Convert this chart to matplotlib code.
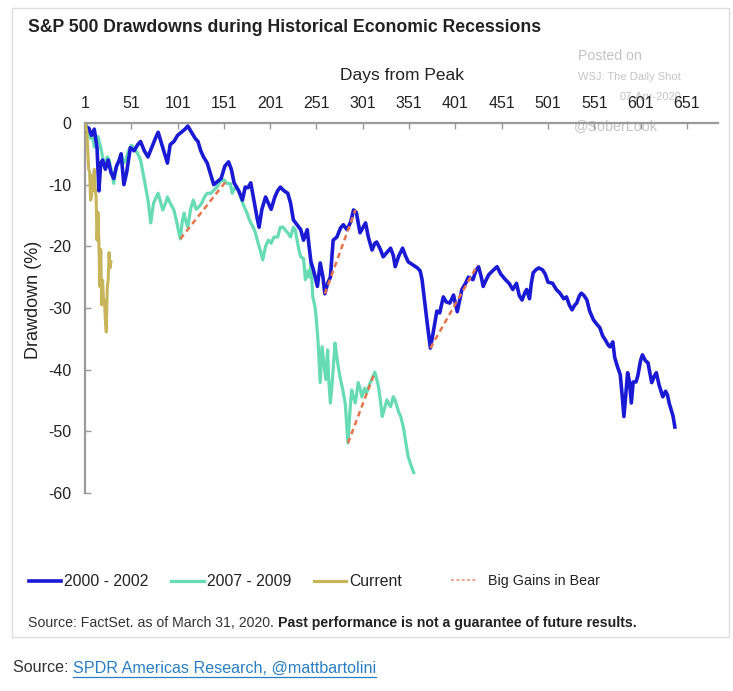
import numpy as np
import matplotlib
matplotlib.use('Agg')
import matplotlib.pyplot as plt
from matplotlib.lines import Line2D
from matplotlib.patches import Rectangle

plt.rcParams['font.family'] = ['Liberation Sans', 'DejaVu Sans']
plt.rcParams['axes.unicode_minus'] = False

# ---- data (day from peak, drawdown %) ----
days_0002 = [1, 3, 5, 8, 11, 14, 16, 18, 20, 23, 26, 29, 32, 35, 38, 40, 43, 46, 48, 50,
             54, 58, 61, 65, 69, 73, 77, 80, 84, 87, 90, 93, 97, 101, 105, 109, 112, 116, 120, 123,
             126, 129, 133, 136, 140, 144, 148, 152, 156, 159, 162, 165, 167, 171, 174, 177, 180, 184, 187, 189,
             192, 196, 199, 202, 206, 209, 212, 216, 220, 223, 226, 230, 234, 237, 241, 243, 245, 248, 252, 255,
             258, 260, 263, 266, 269, 273, 277, 280, 284, 288, 291, 294, 298, 301, 304, 307, 311, 314, 316, 320,
             323, 327, 331, 334, 336, 340, 344, 347, 350, 355, 360, 363, 365, 368, 371, 374, 377, 381, 384, 388,
             391, 395, 399, 403, 406, 408, 412, 415, 420, 423, 426, 429, 431, 434, 437, 441, 446, 450, 455, 459,
             463, 467, 470, 473, 476, 478, 481, 483, 485, 488, 491, 495, 498, 501, 506, 510, 514, 518, 521, 524,
             527, 530, 532, 535, 537, 540, 543, 546, 550, 553, 557, 560, 563, 566, 568, 571, 573, 576, 579, 581,
             583, 585, 587, 589, 591, 593, 596, 598, 601, 603, 606, 609, 611, 613, 616, 618, 621, 625, 628, 630,
             632, 634, 636, 638]
dd_0002 = [0, -1.5, -0.8, -2, -1, -4, -11, -6.5, -6, -7.5, -6, -8, -9, -7, -6, -5, -10, -8, -6, -4,
           -4.5, -3.5, -3, -4.5, -5.5, -4, -2.5, -1.5, -3.5, -5, -6.5, -3.5, -3, -2, -1.5, -1, -0.5, -1.5, -2.5, -3,
           -4.5, -5.5, -6.5, -8, -10, -9.5, -9, -7, -6.3, -7.5, -9.7, -10.5, -11, -12.5, -10.4, -10.5, -9.7, -13, -15.5, -16.9,
           -14, -12, -13, -14, -12, -11, -10.4, -11, -11.4, -13, -15.7, -16.5, -17.3, -19, -17.3, -20, -22.5, -24, -26.5, -22.7,
           -25, -27.7, -26, -25, -19, -18.5, -17, -16.5, -17.3, -16, -14.1, -14.5, -17.8, -17, -16.2, -18.5, -20.6, -19.5, -19.3, -20.5,
           -21.7, -21, -20.3, -21.5, -23.3, -21.5, -20.3, -21.5, -22.5, -23, -23.5, -24, -25.4, -29.2, -33, -36.5, -34, -30.5, -30.8, -28.2,
           -29, -29.2, -27.9, -30.6, -28.5, -27, -26, -25, -25.4, -24, -23.3, -25, -26.5, -25.5, -24.6, -24, -23.3, -24.5, -25.4, -26,
           -27, -26, -28, -28.7, -27.5, -27, -28.5, -26, -24.3, -23.8, -23.5, -23.8, -24.5, -25.8, -26, -27, -27.6, -28.5, -28.2, -29.5,
           -30.3, -29.5, -29.2, -28, -27.6, -28, -28.7, -30.5, -31.9, -32.5, -33.2, -34.5, -35.2, -36, -36.3, -35.5, -38, -39.5, -40.8, -44,
           -47.6, -44, -40.5, -42, -45.4, -42, -42, -41, -38.5, -37.6, -38.5, -38.9, -40.5, -42.1, -41, -40.5, -42.5, -44.4, -43.5, -44.1,
           -45.5, -46.5, -47.5, -49.3]

days_0709 = [1, 3, 5, 7, 9, 11, 13, 15, 18, 20, 22, 25, 27, 30, 32, 35, 37, 40, 43, 45,
             48, 51, 54, 58, 61, 63, 66, 69, 72, 75, 78, 80, 83, 85, 88, 90, 93, 97, 100, 102,
             104, 106, 108, 110, 112, 115, 118, 121, 124, 127, 130, 133, 137, 140, 143, 147, 151, 154, 158, 160,
             163, 167, 170, 173, 176, 178, 180, 183, 185, 188, 190, 193, 196, 199, 202, 205, 209, 212, 215, 218,
             220, 223, 226, 228, 230, 232, 234, 237, 239, 241, 243, 245, 247, 249, 250, 252, 253, 255, 257, 259,
             261, 263, 264, 266, 268, 271, 273, 275, 277, 279, 282, 285, 287, 289, 291, 293, 296, 298, 300, 303,
             305, 309, 311, 314, 316, 318, 320, 322, 325, 327, 329, 331, 334, 336, 338, 340, 342, 345, 347, 350,
             353, 356]
dd_0709 = [0, -0.5, -1.5, -2.5, -1.5, -3.9, -3, -2.2, -4, -5.5, -7, -5.5, -6, -8, -9.8, -7, -6.5, -5, -6.5, -6,
           -4.5, -3.6, -4, -5, -6, -7.6, -10, -12.5, -16.2, -13, -12, -11.4, -13, -14.1, -13, -12, -13, -14.1, -16, -17.5,
           -18.8, -16, -14.6, -16, -16.9, -14, -12.5, -14, -13.6, -13, -12, -11.4, -11.4, -10.9, -10.5, -9.5, -9.2, -9.8, -9.8, -11.4,
           -10.5, -10.9, -12.5, -13.6, -14.6, -15.5, -16.2, -17, -17.8, -19.5, -20.5, -22.2, -20, -19, -19.5, -18.5, -18.5, -16.9, -16.9, -17.5,
           -17.8, -18.5, -16.9, -17.3, -19, -20.6, -21.7, -22, -25.4, -24, -25, -22.7, -28.2, -29.5, -30.5, -34, -36.3, -42.1, -36.3, -39,
           -41.6, -36.8, -41.2, -45.4, -42, -35.7, -38, -40, -41.6, -43, -45.4, -51.9, -47, -43.3, -44.5, -45.4, -42.1, -43, -44.4, -43,
           -43.8, -42.1, -41.5, -40.4, -41.5, -42.8, -45, -47.6, -46, -44.9, -45.5, -46, -44.4, -45, -46, -47, -47.6, -49.5, -51.4, -54.1,
           -55.5, -56.7]

days_cur = list(range(1, 30))
dd_cur = [0, -0.5, -1.5, -4.5, -7.5, -8, -12.5, -12, -8.5, -11, -7.5, -10.5, -12, -19, -14.5,
          -19.5, -26.5, -20.5, -29.5, -25.5, -29, -28.8, -32, -33.9, -26.8, -25.5, -21, -23.5, -22.5]

# "big gains in bear" rallies: start/end day and drawdown
gain_days = [[104, 153], [260, 293], [285, 314], [374, 425]]
gain_dd = [[-18.8, -9.5], [-27.7, -14.1], [-51.9, -40.4], [-36.5, -23.0]]

xticks = list(range(1, 652, 50))
yticks = [0, -10, -20, -30, -40, -50, -60]

c_0002 = '#1a1ad4'
c_0709 = '#66dbb4'
c_cur = '#c8b55a'
c_gain = '#e8744c'
c_axis = '#9a9a9a'

W, H = 733, 691
def fx(px):
    return px / W
def fy(py):
    return 1 - py / H

fig = plt.figure(figsize=(W / 100, H / 100), dpi=100)
fig.add_artist(Rectangle((fx(12), fy(637)), fx(729) - fx(12), fy(8) - fy(637),
                         transform=fig.transFigure, facecolor='white', edgecolor='#dedede',
                         lw=1, zorder=-5))

ax = fig.add_axes([fx(85), fy(493), (718 - 85) / W, (493 - 123) / H])
ax.set_facecolor('none')
ax.plot(days_0002, dd_0002, color=c_0002, lw=2.6, zorder=3)
ax.plot(days_0709, dd_0709, color=c_0709, lw=2.3, zorder=2)
ax.plot(days_cur, dd_cur, color=c_cur, lw=2.2, zorder=4)
for gx, gy in zip(gain_days, gain_dd):
    ax.plot(gx, gy, color=c_gain, lw=1.8, ls=(0, (2.2, 1.6)), zorder=5)

ax.set_xlim(1, 684.6)
ax.set_ylim(-60, 0)
ax.set_xticks(xticks)
ax.set_xticklabels([str(v) for v in xticks])
ax.set_yticks(yticks)
ax.set_yticklabels([str(v) for v in yticks])
for s in ['right', 'bottom']:
    ax.spines[s].set_visible(False)
for s in ['top', 'left']:
    ax.spines[s].set_color(c_axis)
    ax.spines[s].set_linewidth(1.6)
ax.tick_params(axis='x', direction='in', length=4, width=1, color=c_axis, top=True, bottom=False,
               labeltop=True, labelbottom=False, pad=9, labelsize=11.5, labelcolor='#222222')
ax.tick_params(axis='y', direction='in', length=4, width=1, color=c_axis, pad=10,
               labelsize=11.5, labelcolor='#222222')
ax.set_xlabel('Days from Peak', fontsize=12.5, color='#222222', labelpad=11)
ax.xaxis.set_label_position('top')

fig.text(fx(34), fy(300), 'Drawdown (%)', rotation=90, ha='center', va='center',
         fontsize=13, color='#222222')

fig.text(fx(28), fy(28), 'S&P 500 Drawdowns during Historical Economic Recessions',
         fontsize=12.7, fontweight='bold', color='#222222', ha='left', va='center')

# watermark
wm = '#c4c4c4'
fig.text(fx(578), fy(56), 'Posted on', fontsize=10.2, color=wm, va='center')
fig.text(fx(578), fy(77), 'WSJ: The Daily Shot', fontsize=8, color=wm, va='center')
fig.text(fx(620), fy(97), '07-Apr-2020', fontsize=8, color=wm, va='center', zorder=-1)
fig.text(fx(574), fy(126), '@SoberLook', fontsize=10.3, color=wm, va='center', zorder=-1)

# legend
h = [Line2D([], [], color=c_0002, lw=2.6),
     Line2D([], [], color=c_0709, lw=2.3),
     Line2D([], [], color=c_cur, lw=2.3)]
fig.legend(h, ['2000 - 2002', '2007 - 2009', 'Current'], loc='center left',
           bbox_to_anchor=(fx(29), fy(582)), ncol=3, frameon=False, fontsize=11.3,
           handlelength=2.05, handletextpad=0.2, columnspacing=1.45, borderpad=0, borderaxespad=0,
           labelcolor='#222222')
fig.legend([Line2D([], [], color=c_gain, lw=1.1, ls=(0, (2, 1.5)), alpha=0.8)], ['Big Gains in Bear'],
           loc='center left', bbox_to_anchor=(fx(451), fy(581)), frameon=False, fontsize=10.3,
           handlelength=1.8, handletextpad=0.8, borderpad=0, borderaxespad=0, labelcolor='#222222')

# source lines
renderer = fig.canvas.get_renderer()
t1 = fig.text(fx(28), fy(623), 'Source: FactSet. as of March 31, 2020. ', fontsize=10.2,
              color='#333333', va='center')
bb = t1.get_window_extent(renderer)
fig.text(bb.x1 / W, fy(623), 'Past performance is not a guarantee of future results.',
         fontsize=10.2, fontweight='bold', color='#222222', va='center')

t2 = fig.text(fx(13), fy(668), 'Source: ', fontsize=11.6, color='#333333', va='center')
bb = t2.get_window_extent(renderer)
t3 = fig.text(bb.x1 / W, fy(668), 'SPDR Americas Research, @mattbartolini', fontsize=11.6,
              color='#2a7fc4', va='center')
bb3 = t3.get_window_extent(renderer)
fig.add_artist(Line2D([bb3.x0 / W, bb3.x1 / W], [(bb3.y0 - 1) / H, (bb3.y0 - 1) / H],
                      transform=fig.transFigure, color='#2a7fc4', lw=0.9))

fig.savefig('out.png', dpi=100, facecolor='white')
